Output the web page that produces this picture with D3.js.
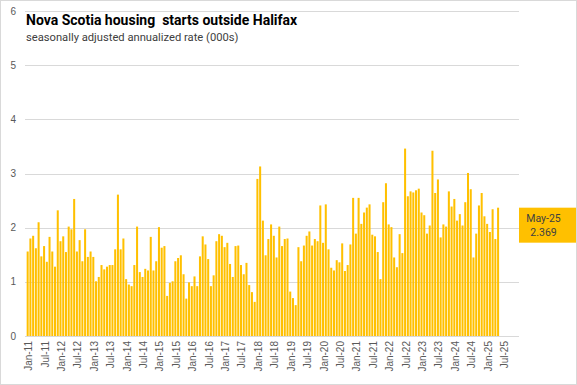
<!DOCTYPE html>
<html>
<head>
<meta charset="utf-8">
<script src="https://cdn.jsdelivr.net/npm/d3@7"></script>
<style>
  html, body { margin: 0; padding: 0; background: #fff; }
  svg { display: block; }
</style>
</head>
<body>
<svg id="chart" width="577" height="385"></svg>
<script>
(() => {
  const MONTHS = ["Jan", "Feb", "Mar", "Apr", "May", "Jun", "Jul", "Aug", "Sep", "Oct", "Nov", "Dec"];
  const YEARS = d3.range(2011, 2026);

  // category axis runs Jan-11 .. Dec-25, data stops at May-25
  const categories = YEARS.flatMap(y => MONTHS.map(m => `${m}-${String(y).slice(2)}`));

  // housing starts, seasonally adjusted annualized rate (000s), Jan-11 onwards
  const starts = [
    1.56, 1.80, 1.85, 1.62, 2.10, 1.47, 1.66, 1.37, 1.83, 1.56, 1.28, 2.32,
    1.75, 1.84, 1.55, 2.02, 1.97, 2.53, 1.56, 1.77, 1.38, 1.97, 1.46, 1.56,
    1.46, 1.01, 1.09, 1.31, 1.23, 1.28, 1.31, 1.31, 1.60, 2.61, 1.60, 1.80,
    1.05, 0.95, 0.92, 1.31, 2.02, 1.18, 1.09, 1.24, 1.21, 1.83, 1.21, 1.38,
    2.01, 1.63, 1.66, 0.74, 0.98, 1.01, 1.38, 1.44, 1.49, 1.14, 0.69, 0.99,
    0.92, 1.10, 0.92, 1.47, 1.84, 1.69, 1.42, 0.92, 1.12, 1.75, 1.88, 1.85,
    1.64, 1.72, 1.33, 1.09, 1.66, 1.67, 1.31, 1.14, 1.35, 0.94, 0.81, 0.63,
    2.90, 3.13, 2.13, 1.49, 1.79, 2.06, 1.85, 1.45, 2.02, 1.66, 1.79, 1.80,
    0.82, 0.70, 0.57, 1.64, 1.38, 1.67, 1.85, 1.93, 1.67, 1.79, 1.75, 2.41,
    1.72, 2.43, 1.60, 1.26, 1.21, 1.40, 1.36, 1.71, 1.20, 1.31, 1.69, 2.55,
    1.89, 2.55, 2.07, 2.28, 2.37, 2.43, 1.87, 1.84, 1.55, 1.05, 2.47, 2.82,
    2.06, 2.01, 1.45, 1.27, 1.88, 1.53, 3.46, 2.58, 2.67, 2.65, 2.69, 2.72,
    2.28, 2.23, 1.89, 2.04, 3.42, 2.64, 2.89, 1.82, 2.06, 2.02, 2.67, 2.39,
    2.53, 2.13, 2.25, 2.04, 2.47, 3.01, 2.71, 1.45, 1.89, 2.41, 2.64, 2.21,
    2.07, 1.92, 2.34, 1.79, 2.369
  ];

  const Y_TICKS = [0, 1, 2, 3, 4, 5, 6];
  const X_TICKS = categories.filter((c, i) => i % 6 === 0 && i <= 174);

  const TITLE = "Nova Scotia housing  starts outside Halifax";
  const SUBTITLE = "seasonally adjusted annualized rate (000s)";

  const GOLD = "#FFC000";
  const GRID = "#d9d9d9";
  const TICK_TEXT = "#595959";

  const data = starts.map((v, i) => ({ cat: categories[i], value: v }));
  const last = data[data.length - 1];

  const svg = d3.select("#chart");

  svg.append("rect")
    .attr("x", 0.5).attr("y", 0.5)
    .attr("width", 576).attr("height", 384)
    .attr("fill", "#fff")
    .attr("stroke", GRID);

  const x = d3.scaleBand()
    .domain(categories)
    .range([26.3, 518.6])
    .paddingInner(0.26)
    .paddingOuter(0.13);

  const y = d3.scaleLinear()
    .domain([0, 6])
    .range([336, 11]);

  // gridlines
  svg.append("g")
    .selectAll("line")
    .data(Y_TICKS.filter(t => t > 0))
    .join("line")
    .attr("x1", 25).attr("x2", 519)
    .attr("y1", d => Math.round(y(d)) + 0.5)
    .attr("y2", d => Math.round(y(d)) + 0.5)
    .attr("stroke", GRID)
    .attr("stroke-width", 1);

  // y labels
  svg.append("g")
    .selectAll("text")
    .data(Y_TICKS)
    .join("text")
    .attr("x", 16)
    .attr("y", d => y(d))
    .attr("dy", "0.35em")
    .attr("text-anchor", "end")
    .attr("font-family", "Liberation Sans, Arial, sans-serif")
    .attr("font-size", 10)
    .attr("fill", TICK_TEXT)
    .text(d => d);

  // bars
  svg.append("g")
    .selectAll("rect")
    .data(data)
    .join("rect")
    .attr("x", d => x(d.cat))
    .attr("width", x.bandwidth())
    .attr("y", d => y(d.value))
    .attr("height", d => y(0) - y(d.value))
    .attr("fill", GOLD);

  // category axis line
  svg.append("line")
    .attr("x1", 25).attr("x2", 519)
    .attr("y1", Math.round(y(0)) + 0.5)
    .attr("y2", Math.round(y(0)) + 0.5)
    .attr("stroke", GRID);

  // x labels, rotated
  svg.append("g")
    .selectAll("text")
    .data(X_TICKS)
    .join("text")
    .attr("transform", d => `translate(${x(d) + x.bandwidth() / 2 + 1},${341}) rotate(-90)`)
    .attr("dy", "0.35em")
    .attr("text-anchor", "end")
    .attr("font-family", "Liberation Sans, Arial, sans-serif")
    .attr("font-size", 10)
    .attr("fill", TICK_TEXT)
    .text(d => d);

  // title block
  svg.append("text")
    .attr("x", 26).attr("y", 25)
    .attr("font-family", "Roboto, sans-serif")
    .attr("font-weight", 700)
    .attr("font-size", 14)
    .attr("fill", "#000")
    .style("white-space", "pre")
    .text(TITLE);

  svg.append("text")
    .attr("x", 26).attr("y", 41)
    .attr("font-family", "Roboto, sans-serif")
    .attr("font-size", 11.2)
    .attr("fill", "#404040")
    .text(SUBTITLE);

  // latest value callout
  const callout = svg.append("g");
  callout.append("rect")
    .attr("x", 519)
    .attr("y", y(last.value))
    .attr("width", 57)
    .attr("height", 35)
    .attr("fill", GOLD);

  callout.append("text")
    .attr("x", 543.5)
    .attr("y", y(last.value) + 14.5)
    .attr("text-anchor", "middle")
    .attr("font-family", "Roboto, sans-serif")
    .attr("font-size", 10.5)
    .attr("fill", "#404040")
    .text(last.cat);

  callout.append("text")
    .attr("x", 543.5)
    .attr("y", y(last.value) + 28)
    .attr("text-anchor", "middle")
    .attr("font-family", "Roboto, sans-serif")
    .attr("font-size", 10.5)
    .attr("fill", "#404040")
    .text(last.value.toFixed(3));
})();
</script>
</body>
</html>
